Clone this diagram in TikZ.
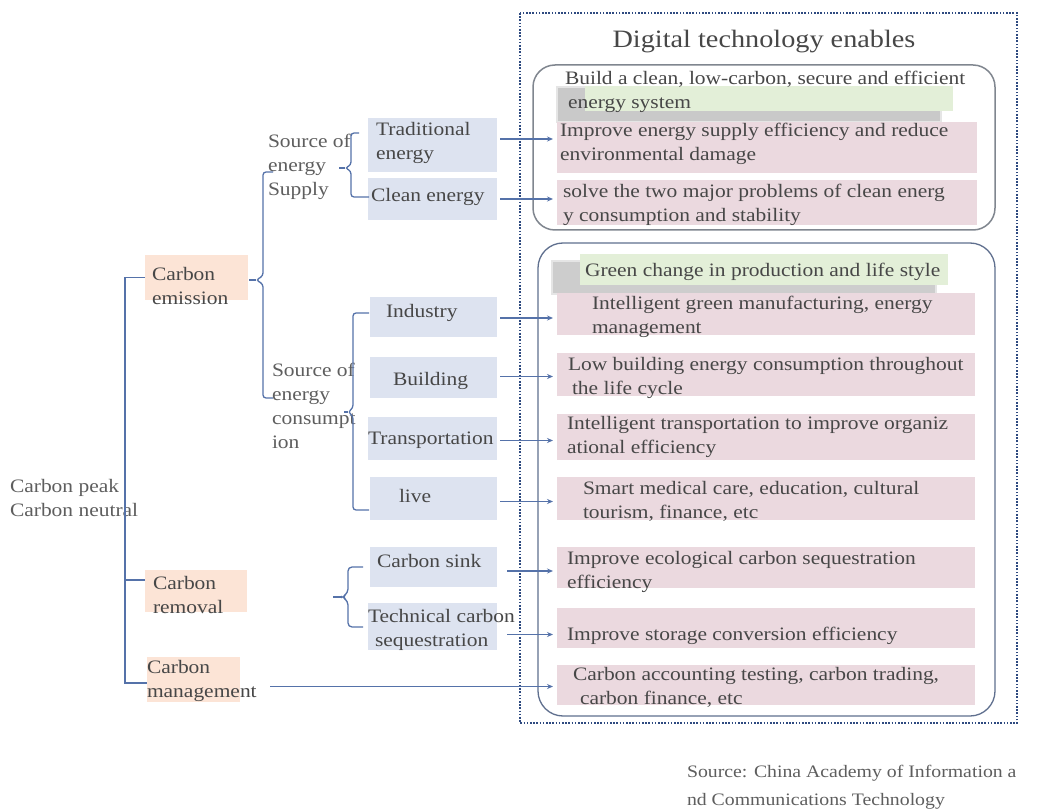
\documentclass[tikz,border=0pt]{standalone}
\usepackage{fontspec}
\setmainfont{Liberation Serif}[FakeStretch=1.13]
\usetikzlibrary{arrows.meta,calc}
\definecolor{txtc}{HTML}{474747}
\definecolor{lightt}{HTML}{5E5E5E}
\definecolor{lnc}{HTML}{5572A9}
\definecolor{bluebg}{HTML}{DDE3F0}
\definecolor{orgbg}{HTML}{FCE4D6}
\definecolor{pinkbg}{HTML}{EBD9DF}
\definecolor{greenbg}{HTML}{E3EFD8}
\definecolor{dotc}{HTML}{2E4A80}
\definecolor{rboxa}{HTML}{80868F}
\definecolor{rboxb}{HTML}{5F6F8E}
\newcommand\fsmain{\fontsize{19}{24}\selectfont}
\newcommand\mybox[6]{%
  \node[boxs, fill=#2, minimum width={#5pt-#3pt}, minimum height={#6pt-#4pt}] (#1) at ({(#3+#5)/2},{(#4+#6)/2}) {};}
\begin{document}
\begin{tikzpicture}[x=1pt,y=-1pt,
  every node/.style={inner sep=0pt, outer sep=0pt},
  boxs/.style={draw=none, rectangle},
  txt/.style={anchor=base west, align=left, font=\fsmain, text=txtc},
  ltxt/.style={txt, text=lightt},
  ln/.style={draw=lnc, line width=1.3pt},
  arr/.style={draw=lnc, line width=1.1pt, -{Stealth[length=6pt,width=5pt]}},
]
\useasboundingbox[fill=white] (0,0) rectangle (1039,810);

% ---------- right frame ----------
\draw[dotc, line width=2pt, dash pattern=on 1.6pt off 1.6pt] (520,13) rectangle (1017,723);
\node[font=\fontsize{25}{28}\selectfont, text=txtc, anchor=base] (title) at (764,48) {Digital technology enables};
\draw[rboxa, line width=1.5pt, rounded corners=22pt] (533,65) rectangle (995,230);
\draw[rboxb, line width=1.3pt, rounded corners=25pt] (538,243) rectangle (995,716);

% blurred shadows
\fill[black, opacity=0.10] (556,86) rectangle (942,123);
\fill[black, opacity=0.12] (558,88) rectangle (940,121);
\fill[black, opacity=0.10] (551,260) rectangle (937,295);
\fill[black, opacity=0.10] (553,262) rectangle (935,293);

% ---------- backgrounds ----------
\mybox{g1}{greenbg}{585}{86}{953}{111}
\mybox{p1}{pinkbg}{557}{122}{977}{173}
\mybox{p2}{pinkbg}{557}{180}{977}{225}
\mybox{g2}{greenbg}{580}{254}{948}{285}
\mybox{pI}{pinkbg}{557}{293}{975}{335}
\mybox{pB}{pinkbg}{557}{353}{975}{396}
\mybox{pT}{pinkbg}{557}{414}{975}{460}
\mybox{pL}{pinkbg}{557}{477}{975}{520}
\mybox{pS}{pinkbg}{557}{547}{975}{588}
\mybox{pQ}{pinkbg}{557}{608}{975}{648}
\mybox{pM}{pinkbg}{557}{665}{975}{705}

\mybox{trad}{bluebg}{368}{118}{497}{172}
\mybox{clean}{bluebg}{368}{178}{497}{220}
\mybox{ind}{bluebg}{370}{297}{497}{337}
\mybox{bld}{bluebg}{370}{357}{497}{398}
\mybox{trn}{bluebg}{368}{417}{497}{460}
\mybox{liv}{bluebg}{370}{477}{497}{520}
\mybox{sink}{bluebg}{370}{547}{497}{587}
\mybox{tech}{bluebg}{368}{603}{497}{650}

\mybox{emis}{orgbg}{145}{255}{248}{300}
\mybox{rem}{orgbg}{145}{570}{247}{612}
\mybox{mgmt}{orgbg}{147}{657}{240}{702}

% ---------- texts (base = last line) ----------
\node[txt] (tg1) at (565,109) {Build a clean, low-carbon, secure and efficient\\\hspace*{3pt}energy system};
\node[txt] (tp1) at (560,161) {Improve energy supply efficiency and reduce\\environmental damage};
\node[txt] (tp2) at (563,222) {solve the two major problems of clean energ\\y consumption and stability};
\node[txt] (tg2) at (585,277) {Green change in production and life style};
\node[txt] (tpI) at (592,334) {Intelligent green manufacturing, energy\\management};
\node[txt] (tpB) at (568,394) {Low building energy consumption throughout\\\hspace*{4pt}the life cycle};
\node[txt] (tpT) at (567,453) {Intelligent transportation to improve organiz\\ational efficiency};
\node[txt] (tpL) at (583,518) {Smart medical care, education, cultural\\tourism, finance, etc};
\node[txt] (tpS) at (567,588) {Improve ecological carbon sequestration\\efficiency};
\node[txt] (tpQ) at (567,640) {Improve storage conversion efficiency};
\node[txt] (tpM) at (573,704) {Carbon accounting testing, carbon trading,\\\hspace*{7pt}carbon finance, etc};

\node[txt] (ttrad) at (376,160) {Traditional\\energy};
\node[txt] (tclean) at (371,202) {Clean energy};
\node[txt] (tind) at (386,318) {Industry};
\node[txt] (tbld) at (393,385) {Building};
\node[txt] (ttrn) at (368,444) {Transportation};
\node[txt] (tliv) at (399,502) {live};
\node[txt] (tsink) at (377,567) {Carbon sink};
\node[txt] (ttech) at (368,646) {Technical carbon\\\hspace*{7pt}sequestration};

\node[ltxt] (tsup) at (268,196) {Source of\\energy\\Supply};
\node[ltxt] (tcon) at (272,448) {Source of\\energy\\consumpt\\ion};
\node[ltxt] (tpeak) at (10,516) {Carbon peak\\Carbon neutral};
\node[txt] (temis) at (152,305) {Carbon\\emission};
\node[txt] (trem) at (153,613) {Carbon\\removal};
\node[txt] (tmgmt) at (147,697) {Carbon\\management};

\node[ltxt, font=\fontsize{17.5}{28}\selectfont] (src) at (687,805) {Source: China Academy of Information a\\nd Communications Technology};

% ---------- tree lines ----------
\draw[ln] (emis.west) -- ++(-20,0) |- ([yshift=-3.5pt]mgmt.west);
\draw[ln] ([yshift=11pt]rem.west) -- ++(-20,0);

\draw[ln, rounded corners=3pt] (273,172) -| (263,276) -- (256,280) -- (263,284) |- (273,398);
\draw[ln] (256,280) -- (249,280);

\draw[ln, rounded corners=3pt] (359,133) -| (351,165) -- (345,168) -- (351,171) |- (369,197);
\draw[ln] (345,168) -- (339,168);

\draw[ln, rounded corners=3pt] (369,313) -| (353,408) -- (348,412) -- (353,416) |- (369,510);
\draw[ln] (348,412) -- (344,412);

\draw[ln, rounded corners=4pt] (363,567) -| (348,593) -- (342,597) -- (348,601) |- (363,627);
\draw[ln] (342,597) -- (333,597);

% ---------- arrows ----------
\draw[arr] ($(trad.east)+(3,-6)$) -- ($(trad.east -| p1.west)+(-4,-6)$);
\draw[arr] ($(clean.east)+(3,0)$) -- ($(clean.east -| p2.west)+(-4,0)$);
\draw[arr] ($(ind.east)+(3,1)$) -- ($(ind.east -| pI.west)+(-4,1)$);
\draw[arr] ($(bld.east)+(3,-1)$) -- ($(bld.east -| pB.west)+(-4,-1)$);
\draw[arr] ($(trn.east)+(3,2)$) -- ($(trn.east -| pT.west)+(-4,2)$);
\draw[arr] ($(liv.east)+(3,3)$) -- ($(liv.east -| pL.west)+(-4,3)$);
\draw[arr] ($(sink.east)+(10,4)$) -- ($(sink.east -| pS.west)+(-4,4)$);
\draw[arr] ($(tech.east)+(10,8)$) -- ($(tech.east -| pQ.west)+(-4,8)$);
\draw[arr] ($(mgmt.east)+(30,7)$) -- ($(mgmt.east -| pM.west)+(-4,7)$);
\end{tikzpicture}
\end{document}
